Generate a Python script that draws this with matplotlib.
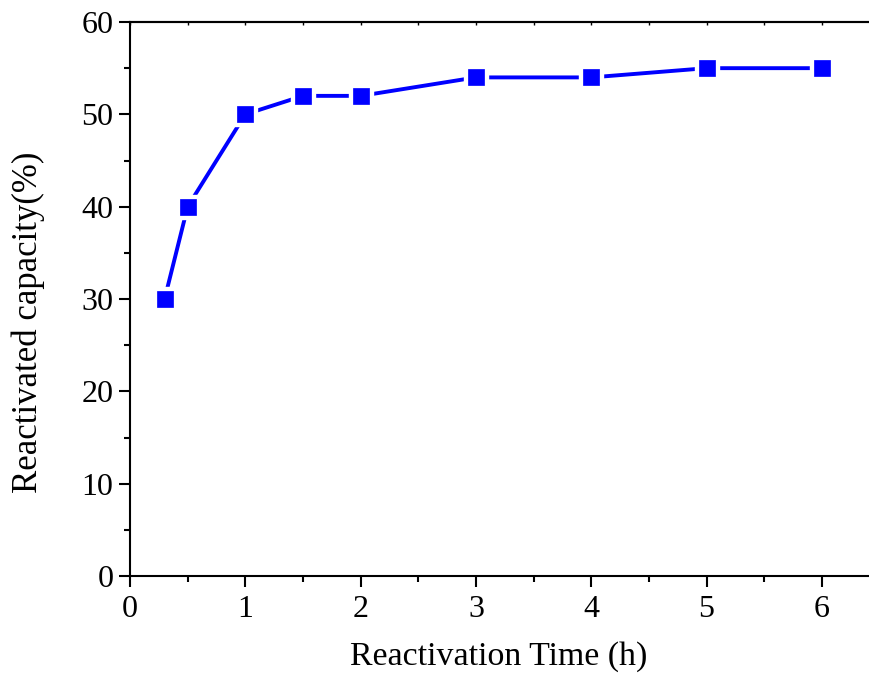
import matplotlib
matplotlib.use("Agg")
import matplotlib.pyplot as plt
from matplotlib.ticker import MultipleLocator

time_h = [0.3, 0.5, 1, 1.5, 2, 3, 4, 5, 6]
capacity = [30, 40, 50, 52, 52, 54, 54, 55, 55]
xlabel = "Reactivation Time (h)"
ylabel = "Reactivated capacity(%)"

plt.rcParams['font.family'] = ['Liberation Serif', 'DejaVu Serif']

fig = plt.figure(figsize=(8.7, 6.77), dpi=100)
ax = fig.add_axes([130/870, 1-576/677, (868-130)/870, (576-22)/677])

ax.plot(time_h, capacity, color='#0000ff', lw=2.8, zorder=2)
ax.plot(time_h, capacity, ls='none', marker='s', ms=17, mfc='white', mec='white', zorder=3)
ax.plot(time_h, capacity, ls='none', marker='s', ms=11.5, mfc='#0000ff', mec='#0000ff', mew=0.5, zorder=4)

ax.set_xlim(0, 6.4)
ax.set_ylim(0, 60)
ax.xaxis.set_major_locator(MultipleLocator(1))
ax.xaxis.set_minor_locator(MultipleLocator(0.5))
ax.yaxis.set_major_locator(MultipleLocator(10))
ax.yaxis.set_minor_locator(MultipleLocator(5))

ax.spines['right'].set_visible(False)
for s in ['left', 'bottom', 'top']:
    ax.spines[s].set_linewidth(1.5)

ax.tick_params(axis='both', which='major', direction='out', length=8, width=1.5, labelsize=23)
ax.tick_params(axis='both', which='minor', direction='out', length=4, width=1.5)
ax.tick_params(axis='x', which='major', pad=6)
ax.tick_params(axis='y', which='major', pad=4)

# small inward ticks on the top spine
secx = ax.secondary_xaxis('top')
secx.xaxis.set_major_locator(MultipleLocator(1))
secx.xaxis.set_minor_locator(MultipleLocator(0.5))
secx.tick_params(which='both', direction='in', length=2, width=1, labeltop=False)
secx.spines['top'].set_linewidth(1.5)

ax.set_xlabel(xlabel, fontsize=24.4)
ax.set_ylabel(ylabel, fontsize=25)
ax.xaxis.set_label_coords(0.5, -(657-576)/554, transform=ax.transAxes)
ax.yaxis.set_label_coords(-(130-28)/738, (576-322)/554, transform=ax.transAxes)
ax.xaxis.label.set_va('center')
ax.yaxis.label.set_va('center')

fig.savefig("out.png", dpi=100)
